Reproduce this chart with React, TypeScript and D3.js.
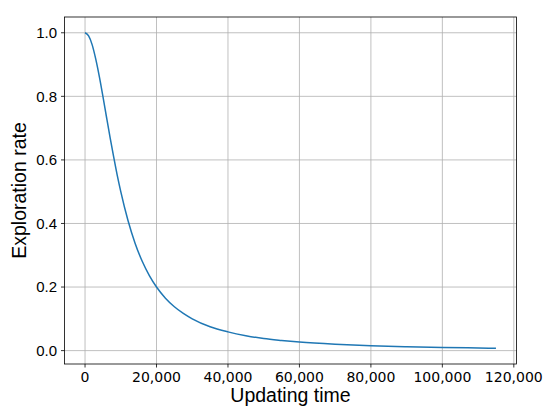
import { useMemo } from 'react';
import * as d3 from 'd3';

// Exploration rate
const updatingTime = [
  0, 1000, 2000, 3000, 4000, 5000, 6000, 7000, 8000, 9000, 10000, 12000, 14000, 16000,
  18000, 20000, 22500, 25000, 27500, 30000, 35000, 40000, 45000, 50000, 55000, 60000,
  70000, 80000, 90000, 100000, 115000,
];
const explorationRate = [
  1.0, 0.99, 0.962, 0.917, 0.862, 0.8, 0.735, 0.671, 0.61, 0.552, 0.5, 0.41, 0.338, 0.281,
  0.236, 0.2, 0.165, 0.138, 0.117, 0.1, 0.075, 0.059, 0.047, 0.038, 0.032, 0.027,
  0.02, 0.015, 0.012, 0.0099, 0.0075,
];
const xTicks = [0, 20000, 40000, 60000, 80000, 100000, 120000];
const yTicks = [0.0, 0.2, 0.4, 0.6, 0.8, 1.0];

const WIDTH = 550;
const HEIGHT = 413;
const margin = { left: 64.5, right: 33.5, top: 17, bottom: 49 };

const App = () => {
  const points = updatingTime.map((t, i) => ({ t, v: explorationRate[i] }));

  const { x, y, line } = useMemo(() => {
    // matplotlib-style 5% padding around the data
    const [x0, x1] = d3.extent(updatingTime) as [number, number];
    const [y0, y1] = d3.extent(explorationRate) as [number, number];
    const px = (x1 - x0) * 0.05;
    const py = (y1 - y0) * 0.05;
    const x = d3.scaleLinear().domain([x0 - px, x1 + px]).range([margin.left, WIDTH - margin.right]);
    const y = d3.scaleLinear().domain([y0 - py, y1 + py]).range([HEIGHT - margin.bottom, margin.top]);
    const line = d3.line<{ t: number; v: number }>()
      .x(d => x(d.t))
      .y(d => y(d.v))
      .curve(d3.curveMonotoneX);
    return { x, y, line };
  }, []);

  const left = margin.left;
  const right = WIDTH - margin.right;
  const top = margin.top;
  const bottom = HEIGHT - margin.bottom;
  const fmtX = d3.format(',');
  const fmtY = d3.format('.1f');

  return (
    <svg width={WIDTH} height={HEIGHT} style={{ position: 'absolute', left: 0, top: 0, background: '#fff' }}>
      {/* grid */}
      <g stroke="#b0b0b0" strokeWidth={0.8}>
        {xTicks.map(t => (
          <line key={'gx' + t} x1={x(t)} x2={x(t)} y1={top} y2={bottom} />
        ))}
        {yTicks.map(t => (
          <line key={'gy' + t} x1={left} x2={right} y1={y(t)} y2={y(t)} />
        ))}
      </g>

      <path d={line(points) || ''} fill="none" stroke="#1f77b4" strokeWidth={1.5} />

      {/* spines */}
      <rect x={left} y={top} width={right - left} height={bottom - top} fill="none" stroke="#000" strokeWidth={0.8} />

      {/* x axis */}
      <g>
        {xTicks.map(t => (
          <g key={'xt' + t} transform={`translate(${x(t)},${bottom})`}>
            <line y2={3.5} stroke="#000" strokeWidth={0.8} />
            <text y={18} textAnchor="middle" fontFamily="DejaVu Sans" fontSize={14} fill="#000">
              {fmtX(t)}
            </text>
          </g>
        ))}
      </g>

      {/* y axis */}
      <g>
        {yTicks.map(t => (
          <g key={'yt' + t} transform={`translate(${left},${y(t)})`}>
            <line x2={-3.5} stroke="#000" strokeWidth={0.8} />
            <text x={-7.5} dy="0.36em" textAnchor="end" fontFamily="Liberation Sans" fontSize={15} fill="#000">
              {fmtY(t)}
            </text>
          </g>
        ))}
      </g>

      <text x={(left + right) / 2} y={402} textAnchor="middle" fontFamily="Liberation Sans" fontSize={19.5} fill="#000">
        Updating time
      </text>
      <text
        transform={`translate(26,${(top + bottom) / 2}) rotate(-90)`}
        textAnchor="middle"
        fontFamily="Liberation Sans"
        fontSize={19.5}
        fill="#000"
      >
        Exploration rate
      </text>
    </svg>
  );
};

export default App;
